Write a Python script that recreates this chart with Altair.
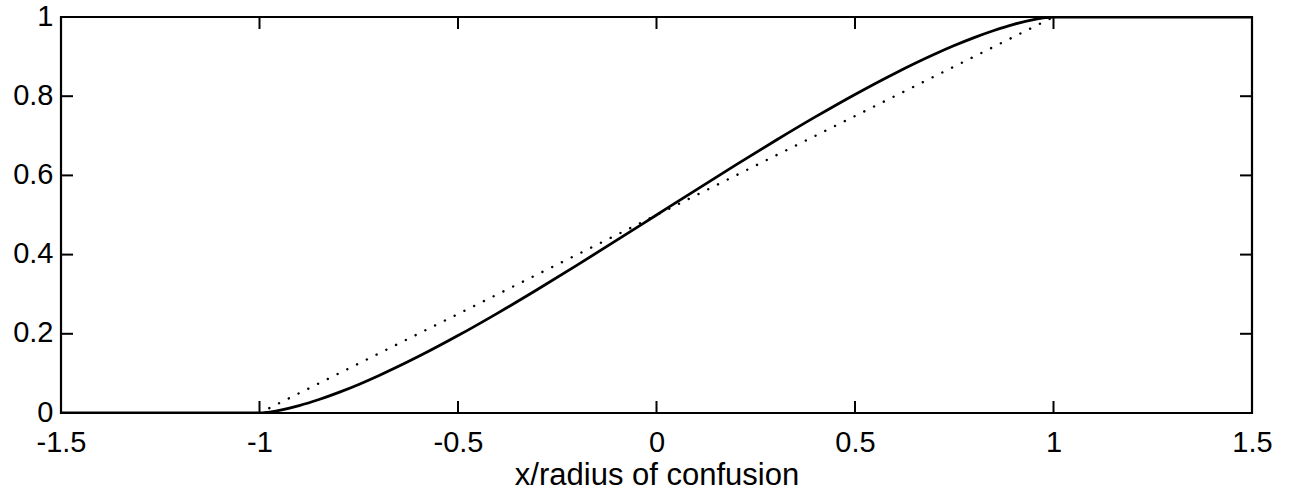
import altair as alt
import pandas as pd

# Solid curve
solid_x = [-1.5, -1.0, -0.98, -0.95, -0.9, -0.85, -0.8, -0.75, -0.7, -0.6, -0.5, -0.4, -0.3, -0.2, -0.1,
           0.0, 0.1, 0.2, 0.3, 0.4, 0.5, 0.6, 0.7, 0.75, 0.8, 0.85, 0.9, 0.95, 0.98, 1.0, 1.5]
solid_y = [0.0, 0.0, 0.0017, 0.0067, 0.0187, 0.0341, 0.0520, 0.0721, 0.0941, 0.1424, 0.1955, 0.2523, 0.3119,
           0.3735, 0.4364, 0.5, 0.5636, 0.6265, 0.6881, 0.7477, 0.8045, 0.8576, 0.9059, 0.9279, 0.9480,
           0.9659, 0.9813, 0.9933, 0.9983, 1.0, 1.0]

# Dotted straight line
dot_x = [-1.0, 1.0]
dot_y = [0.0, 1.0]

x_ticks = [-1.5, -1.0, -0.5, 0.0, 0.5, 1.0, 1.5]
y_ticks = [0.0, 0.2, 0.4, 0.6, 0.8, 1.0]

W, H = 1191, 396
TL = 12
FONT = "Liberation Sans"
FS = 29

solid_df = pd.DataFrame({"x": solid_x, "y": solid_y})
dot_df = pd.DataFrame({"x": dot_x, "y": dot_y})
xt_df = pd.DataFrame({"x": x_ticks})
yt_df = pd.DataFrame({"y": y_ticks})

xscale = alt.Scale(domain=[-1.5, 1.5], nice=False, zero=False)
yscale = alt.Scale(domain=[0, 1], nice=False, zero=False)

xaxis = alt.Axis(values=x_ticks, labelExpr="'' + datum.value", labelFontSize=FS, labelFont=FONT,
                 labelColor="black", domain=False, ticks=False, grid=False, labelPadding=15,
                 title="x/radius of confusion", titleFontSize=31, titleFont=FONT,
                 titleFontWeight="normal", titleColor="black", titlePadding=3, labelFlush=False)
yaxis = alt.Axis(values=y_ticks, labelExpr="'' + datum.value", labelFontSize=FS, labelFont=FONT,
                 labelColor="black", domain=False, ticks=False, grid=False, labelPadding=8,
                 labelOffset=-1, title=None, labelFlush=False)

solid = alt.Chart(solid_df).mark_line(color="black", strokeWidth=2.8, interpolate="monotone", clip=True).encode(
    x=alt.X("x:Q", scale=xscale, axis=xaxis),
    y=alt.Y("y:Q", scale=yscale, axis=yaxis),
)
dotted = alt.Chart(dot_df).mark_line(color="black", strokeWidth=2.4, strokeDash=[0.1, 10.8],
                                     strokeCap="round", clip=True).encode(
    x=alt.X("x:Q", scale=xscale),
    y=alt.Y("y:Q", scale=yscale),
)

top_ticks = alt.Chart(xt_df).mark_rule(color="black", strokeWidth=2).encode(
    x=alt.X("x:Q", scale=xscale), y=alt.value(0), y2=alt.value(TL))
bot_ticks = alt.Chart(xt_df).mark_rule(color="black", strokeWidth=2).encode(
    x=alt.X("x:Q", scale=xscale), y=alt.value(H - TL), y2=alt.value(H))
left_ticks = alt.Chart(yt_df).mark_rule(color="black", strokeWidth=2).encode(
    y=alt.Y("y:Q", scale=yscale), x=alt.value(0), x2=alt.value(TL))
right_ticks = alt.Chart(yt_df).mark_rule(color="black", strokeWidth=2).encode(
    y=alt.Y("y:Q", scale=yscale), x=alt.value(W - TL), x2=alt.value(W))

chart = alt.layer(solid, dotted, top_ticks, bot_ticks, left_ticks, right_ticks).properties(
    width=W, height=H,
    autosize=alt.AutoSizeParams(type="none"),
    padding={"left": 61, "top": 17, "right": 40, "bottom": 79},
    background="white",
).configure_view(stroke="black", strokeWidth=2.2)

chart.save("out.html", embed_options={"renderer": "svg", "actions": False})
